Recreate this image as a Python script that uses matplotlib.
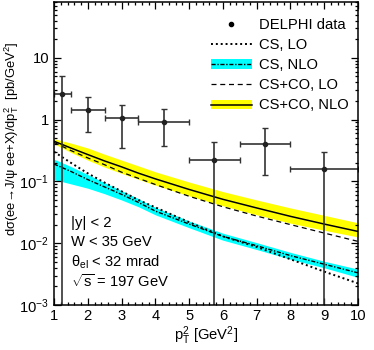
import numpy as np
import matplotlib
matplotlib.use('Agg')
from matplotlib import pyplot as plt
from matplotlib.ticker import MultipleLocator, LogLocator, NullFormatter, FixedLocator, FixedFormatter
from matplotlib.lines import Line2D
from matplotlib.patches import Patch

plt.rcParams['font.family'] = ['Liberation Sans', 'DejaVu Sans']
plt.rcParams['mathtext.fontset'] = 'custom'
plt.rcParams['mathtext.rm'] = 'Liberation Sans'
plt.rcParams['mathtext.it'] = 'Liberation Sans:italic'
plt.rcParams['font.size'] = 10.6

# DELPHI data
data_x = [1.25, 2.0, 3.0, 4.25, 5.75, 7.25, 9.0]
data_xlo = [1.0, 1.5, 2.5, 3.5, 5.0, 6.5, 8.0]
data_xhi = [1.5, 2.5, 3.5, 5.0, 6.5, 8.0, 10.0]
data_y = [2.6, 1.45, 1.08, 0.93, 0.22, 0.41, 0.156]
data_yhi = [5.1, 2.29, 1.75, 1.5, 0.43, 0.72, 0.30]
data_ylo = [1e-4, 0.62, 0.35, 0.37, 1e-4, 0.125, 1e-4]   # 1e-4: bar runs off the bottom

# theory curves (p_T^2 grid)
pt2 = [1, 1.5, 2, 2.5, 3, 3.5, 4, 5, 6, 7, 8, 9, 10]
cs_lo = [0.302, 0.200, 0.135, 0.0955, 0.0692, 0.0501, 0.0380, 0.0219, 0.0129, 0.0087, 0.0055, 0.00347, 0.00224]
cs_nlo = [0.191, 0.145, 0.107, 0.0813, 0.0617, 0.0457, 0.0331, 0.0204, 0.0129, 0.0091, 0.0063, 0.00457, 0.00331]
cs_nlo_hi = [0.229, 0.174, 0.129, 0.0955, 0.0708, 0.0525, 0.038, 0.0229, 0.0145, 0.0102, 0.0071, 0.0051, 0.0038]
cs_nlo_lo = [0.107, 0.0912, 0.0776, 0.0631, 0.0501, 0.0389, 0.0288, 0.0178, 0.0112, 0.0079, 0.0055, 0.0040, 0.0028]
csco_lo = [0.427, 0.316, 0.240, 0.186, 0.141, 0.112, 0.0891, 0.0575, 0.0389, 0.0275, 0.0200, 0.0146, 0.0107]
csco_nlo = [0.447, 0.347, 0.272, 0.214, 0.172, 0.136, 0.110, 0.0741, 0.0513, 0.0372, 0.0272, 0.0204, 0.0155]
csco_nlo_hi = [0.49, 0.417, 0.347, 0.275, 0.221, 0.178, 0.143, 0.0977, 0.0684, 0.0501, 0.0372, 0.0282, 0.0214]
csco_nlo_lo = [0.407, 0.295, 0.221, 0.170, 0.135, 0.108, 0.0871, 0.0582, 0.0403, 0.0288, 0.0211, 0.0162, 0.0126]

fig = plt.figure(figsize=(3.74, 3.5), dpi=100)
ax = fig.add_axes([54/374, 45/350, 304/374, 303/350])

ax.fill_between(pt2, csco_nlo_lo, csco_nlo_hi, color='#ffff00', lw=0)
ax.fill_between(pt2, cs_nlo_lo, cs_nlo_hi, color='#00ffff', lw=0)
ax.plot(pt2, csco_nlo, color='black', lw=1.1)
ax.plot(pt2, csco_lo, color='black', lw=0.9, dashes=(4, 3))
ax.plot(pt2, cs_nlo, color='black', lw=1.0, dashes=(3, 1.2, 1, 1.2))
ax.plot(pt2, cs_lo, color='black', lw=1.4, dashes=(1, 1.5))

x = np.array(data_x)
y = np.array(data_y)
xerr = [x - np.array(data_xlo), np.array(data_xhi) - x]
yerr = [y - np.array(data_ylo), np.array(data_yhi) - y]
ax.errorbar(x, y, xerr=xerr, yerr=yerr, fmt='o', ms=3, color='#222222',
            ecolor='#333333', elinewidth=1.2, capsize=2, capthick=1.0)

ax.set_yscale('log')
ax.set_xlim(1, 10)
ax.set_ylim(1e-3, 80)

ax.xaxis.set_major_locator(MultipleLocator(1))
ax.xaxis.set_minor_locator(MultipleLocator(0.2))
ax.yaxis.set_major_locator(FixedLocator([1e-3, 1e-2, 1e-1, 1, 10]))
ax.yaxis.set_major_formatter(FixedFormatter([r'$\mathregular{10^{-3}}$', r'$\mathregular{10^{-2}}$',
                                             r'$\mathregular{10^{-1}}$', '1', '10']))
ax.yaxis.set_minor_locator(LogLocator(base=10, subs=np.arange(2, 10)))
ax.yaxis.set_minor_formatter(NullFormatter())

ax.tick_params(which='both', direction='in', top=True, right=True, width=0.9)
ax.tick_params(which='major', length=5)
ax.tick_params(which='minor', length=2.5)
ax.tick_params(axis='y', which='major', pad=3.5)
ax.tick_params(axis='x', which='major', pad=3)
for s in ax.spines.values():
    s.set_linewidth(1.1)

ax.set_xlabel(r'p$_\mathrm{T}^\mathrm{2}$ [GeV$^\mathrm{2}$]', labelpad=1)
ax.set_ylabel(r'dσ(ee→J/ψ ee+X)/dp$_\mathrm{T}^\mathrm{2}$  [pb/GeV$^\mathrm{2}$]', fontsize=9.4)
ax.yaxis.set_label_coords(-0.11, 0.55)

ax.text(0.056, 0.27, '|y| < 2', transform=ax.transAxes, va='center')
ax.text(0.056, 0.208, 'W < 35 GeV', transform=ax.transAxes, va='center')
ax.text(0.056, 0.142, r'θ$_\mathrm{el}$ < 32 mrad', transform=ax.transAxes, va='center')
ax.text(0.056, 0.076, r'$\sqrt{\mathrm{s}}$ = 197 GeV', transform=ax.transAxes, va='center')

handles = [
    Line2D([], [], ls='none', marker='o', ms=3, color='black'),
    Line2D([], [], color='black', lw=1.4, dashes=(1, 1.5)),
    (Patch(color='#00ffff', lw=0), Line2D([], [], color='black', lw=1.0, dashes=(3, 1.2, 1, 1.2))),
    Line2D([], [], color='black', lw=0.9, dashes=(4, 3)),
    (Patch(color='#ffff00', lw=0), Line2D([], [], color='black', lw=1.1)),
]
labels = ['DELPHI data', 'CS, LO', 'CS, NLO', 'CS+CO, LO', 'CS+CO, NLO']
ax.legend(handles, labels, loc='upper left', bbox_to_anchor=(0.516, 0.948), frameon=False,
          borderpad=0, borderaxespad=0, handlelength=2.8, handletextpad=0.5,
          handleheight=0.6, labelspacing=0.42, fontsize=10.6)

plt.savefig('out.png', dpi=100)
